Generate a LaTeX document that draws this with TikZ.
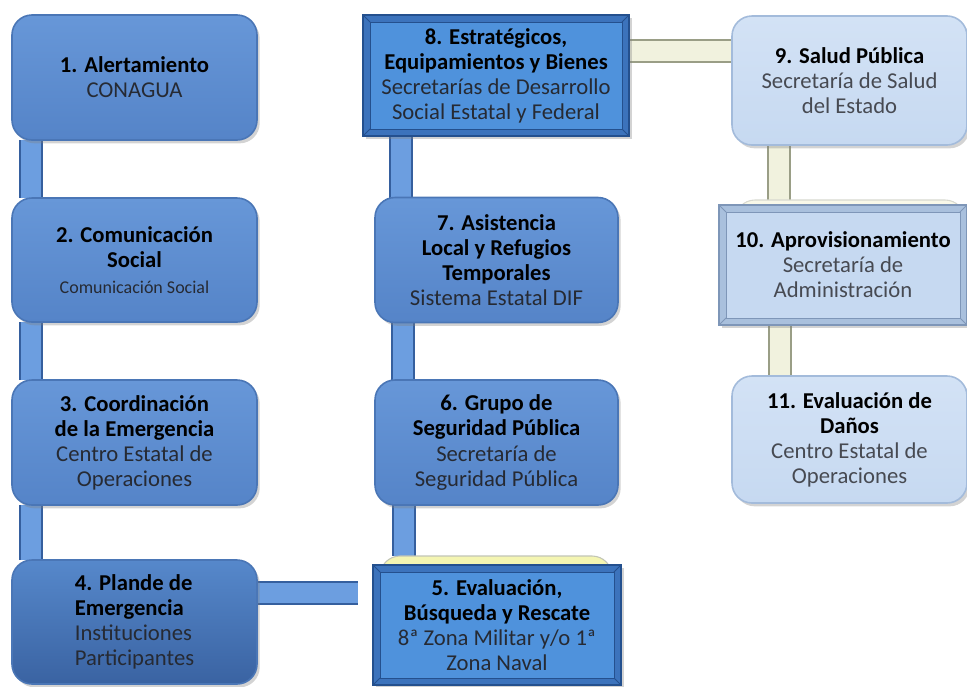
\documentclass[tikz,border=0pt]{standalone}
\usepackage{fontspec}
\setmainfont{Carlito}
\usetikzlibrary{calc,shadows,backgrounds}
\definecolor{boxtop}{HTML}{6797D8}
\definecolor{boxbot}{HTML}{5584C8}
\definecolor{boxline}{HTML}{4A76B6}
\definecolor{darktop}{HTML}{5688CB}
\definecolor{darkbot}{HTML}{3A63A2}
\definecolor{brightblue}{HTML}{4F92DC}
\definecolor{brightband}{HTML}{3C73BC}
\definecolor{brightline}{HTML}{24508E}
\definecolor{palefill}{HTML}{C6D9F1}
\definecolor{paletop}{HTML}{D3E2F5}
\definecolor{paleline}{HTML}{A3BBDB}
\definecolor{paleband}{HTML}{A9C0DD}
\definecolor{palebevel}{HTML}{7E96B8}
\definecolor{barblue}{HTML}{6C9EE0}
\definecolor{barline}{HTML}{355F9E}
\definecolor{barcream}{HTML}{F1F2DE}
\definecolor{barolive}{HTML}{9A9E86}
\definecolor{subgray}{HTML}{262A33}
\newcommand\bevelband[3]{%
  \fill[#2,even odd rule] (#1.north west) rectangle (#1.south east)
    ($(#1.north west)+(7,7)$) rectangle ($(#1.south east)+(-7,-7)$);
  \draw[#3,line width=.6pt] (#1.north west) -- ++(7,7) (#1.north east) -- ++(-7,7)
    (#1.south west) -- ++(7,-7) (#1.south east) -- ++(-7,-7);
  \draw[#3,line width=.6pt] ($(#1.north west)+(7,7)$) rectangle ($(#1.south east)+(-7,-7)$);
  \draw[#3,line width=1pt] (#1.north west) rectangle (#1.south east);}
\begin{document}
\begin{tikzpicture}[x=0.75pt,y=-0.75pt,font=\fontsize{17}{18.8}\selectfont,
  base/.style={align=center,inner sep=0pt,outer sep=0pt,
    drop shadow={opacity=.35,shadow xshift=2pt,shadow yshift=-2.5pt}},
  roundblue/.style={base,rounded corners=15pt,top color=boxtop,bottom color=boxbot,
    draw=boxline,line width=1.2pt},
  rounddark/.style={base,rounded corners=15pt,top color=darktop,bottom color=darkbot,
    draw=boxline,line width=1.2pt},
  roundpale/.style={base,rounded corners=15pt,top color=paletop,bottom color=palefill,
    draw=paleline,line width=1.2pt},
  squareblue/.style={base,fill=brightblue},
  squarepale/.style={base,fill=palefill},
  backing/.style={rounded corners=15pt,line width=.8pt,inner sep=0pt,outer sep=0pt},
  bluebar/.style={draw=barline,line width=1.3pt,double=barblue,double distance=15pt},
  palebar/.style={draw=barolive,line width=1.3pt,double=barcream,double distance=15pt}]
\useasboundingbox (0,0) rectangle (967,686);

% left column
\node[roundblue,minimum width=183.75pt,minimum height=93.75pt] (b1) at (134.5,77.5)
  {\textbf{1. Alertamiento}\\ \textcolor{subgray}{CONAGUA}};
\node[roundblue,minimum width=183.75pt,minimum height=93pt] (b2) at (134.5,260)
  {\textbf{2. Comunicación}\\ \textbf{Social}\\[1pt] {\fontsize{13.5}{15}\selectfont\textcolor{subgray}{Comunicación Social}}};
\node[roundblue,minimum width=183.75pt,minimum height=93.75pt] (b3) at (134.5,442.5)
  {\textbf{3. Coordinación}\\ \textbf{de la Emergencia}\\ \textcolor{subgray}{Centro Estatal de}\\ \textcolor{subgray}{Operaciones}};
\node[rounddark,minimum width=183.75pt,minimum height=93pt,align=left] (b4) at (134.5,622)
  {\textbf{4. Plande de}\\ \textbf{Emergencia}\\ \textcolor{subgray}{Instituciones}\\ \textcolor{subgray}{Participantes}};

% middle column
\node[backing,fill=barcream!80!yellow,draw=barolive!60,minimum width=174pt,minimum height=81pt] (b5back) at (496,610) {};
\node[squareblue,minimum width=186pt,minimum height=90pt] (b5) at (497,625)
  {\phantom{X}};
\bevelband{b5}{brightband}{brightline}
\node[align=center] (t5) at (b5) {\textbf{5. Evaluación,}\\ \textbf{Búsqueda y Rescate}\\ \textcolor{subgray}{8ª Zona Militar y/o 1ª}\\ \textcolor{subgray}{Zona Naval}};
\node[roundblue,minimum width=182.25pt,minimum height=93.75pt] (b6) at (496.5,442.5)
  {\textbf{6. Grupo de}\\ \textbf{Seguridad Pública}\\ \textcolor{subgray}{Secretaría de}\\ \textcolor{subgray}{Seguridad Pública}};
\node[roundblue,minimum width=182.25pt,minimum height=93.75pt] (b7) at (496.5,260)
  {\textbf{7. Asistencia}\\ \textbf{Local y Refugios}\\ \textbf{Temporales}\\ \textcolor{subgray}{Sistema Estatal DIF}};
\node[squareblue,minimum width=199.5pt,minimum height=90.75pt] (b8) at (496,75.5)
  {\phantom{X}};
\bevelband{b8}{brightband}{brightline}
\node[align=center] (t8) at (b8) {\textbf{8. Estratégicos,}\\ \textbf{Equipamientos y Bienes}\\ \textcolor{subgray}{Secretarías de Desarrollo}\\ \textcolor{subgray}{Social Estatal y Federal}};

% right column
\node[roundpale,minimum width=176.25pt,minimum height=96.75pt] (b9) at (849.5,80.5)
  {\textbf{9. Salud Pública}\\ \textcolor{subgray!85}{Secretaría de Salud}\\ \textcolor{subgray!85}{del Estado}};
\node[backing,fill=white!94!olive,draw=barolive!40,minimum width=172.5pt,minimum height=75pt] (b10back) at (850,250) {};
\node[squarepale,minimum width=186pt,minimum height=90pt] (b10) at (843,265)
  {\phantom{X}};
\bevelband{b10}{paleband}{palebevel}
\node[align=center] (t10) at (b10) {\textbf{10. Aprovisionamiento}\\ \textcolor{subgray!85}{Secretaría de}\\ \textcolor{subgray!85}{Administración}};
\node[roundpale,minimum width=176.25pt,minimum height=95.25pt] (b11) at (849.5,439.5)
  {\textbf{11. Evaluación de}\\ \textbf{Daños}\\ \textcolor{subgray!85}{Centro Estatal de}\\ \textcolor{subgray!85}{Operaciones}};

\coordinate (e45) at (358,593);

\begin{scope}[on background layer]
 \foreach \a/\b in {b1/b2,b2/b3,b3/b4}
  \draw[bluebar] ($(\a.south west)+(19,0)$) coordinate (s) -- (s |- \b.north);
 \draw[bluebar] (b4.east |- e45) -- (e45);
 \draw[bluebar] ($(b6.south west)+(29,0)$) coordinate (s) -- (s |- b5back.north);
 \draw[bluebar] ($(b7.south west)+(28,0)$) coordinate (s) -- (s |- b6.north);
 \draw[bluebar] ($(b8.south west)+(38,0)$) coordinate (s) -- (s |- b7.north);
 \draw[palebar] ($(b8.north east)+(0,36)$) coordinate (s) -- (s -| b9.west);
 \draw[palebar] ($(b9.south west)+(47,0)$) coordinate (s) -- (s |- b10back.north);
 \draw[palebar] ($(b10.south west)+(61,0)$) coordinate (s) -- (s |- b11.north);
\end{scope}
\end{tikzpicture}
\end{document}
